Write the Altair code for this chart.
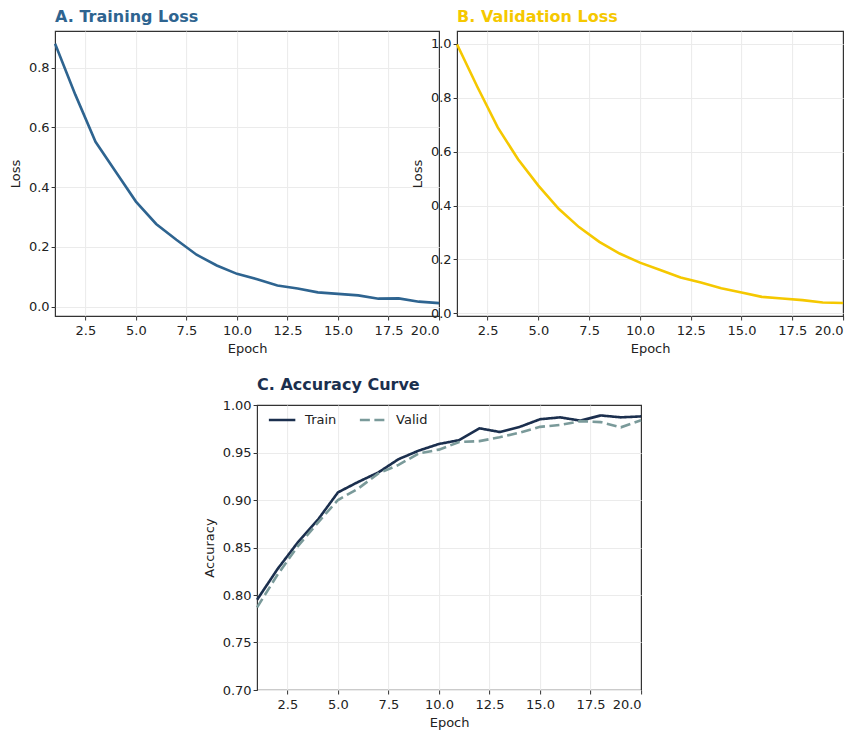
import altair as alt
import pandas as pd

epochs = list(range(1, 21))
train_loss = [0.88, 0.71, 0.552, 0.452, 0.352, 0.277, 0.224, 0.174, 0.138, 0.110,
              0.092, 0.071, 0.061, 0.048, 0.043, 0.038, 0.027, 0.028, 0.017, 0.012]
valid_loss = [0.998, 0.84, 0.69, 0.572, 0.474, 0.388, 0.32, 0.265, 0.222, 0.188,
              0.161, 0.133, 0.114, 0.093, 0.077, 0.061, 0.055, 0.049, 0.040, 0.038]
train_acc = [0.795, 0.827, 0.855, 0.879, 0.908, 0.919, 0.929, 0.943, 0.952, 0.959,
             0.963, 0.9755, 0.9716, 0.977, 0.985, 0.987, 0.9835, 0.989, 0.987, 0.988]
valid_acc = [0.787, 0.821, 0.851, 0.876, 0.900, 0.912, 0.928, 0.937, 0.949, 0.953,
             0.961, 0.962, 0.966, 0.971, 0.977, 0.979, 0.983, 0.982, 0.9765, 0.984]

x_ticks = [2.5, 5.0, 7.5, 10.0, 12.5, 15.0, 17.5, 20.0]
loss_ticks_a = [0.0, 0.2, 0.4, 0.6, 0.8]
loss_ticks_b = [0.0, 0.2, 0.4, 0.6, 0.8, 1.0]
acc_ticks = [0.70, 0.75, 0.80, 0.85, 0.90, 0.95, 1.00]

FONT = "DejaVu Sans"
W, H = 384, 285

def x_enc():
    return alt.X("epoch:Q", title="Epoch",
                 scale=alt.Scale(domain=[1, 20], nice=False, zero=False),
                 axis=alt.Axis(values=x_ticks, format=".1f", labelPadding=4, titlePadding=5,
                               gridOpacity=alt.condition("datum.value >= 20", alt.value(0), alt.value(1))))

def title(text, color):
    return alt.TitleParams(text, color=color, anchor="start", frame="group",
                           fontSize=16, fontWeight="bold", font=FONT, offset=6)

df_a = pd.DataFrame({"epoch": epochs, "loss": train_loss})
df_b = pd.DataFrame({"epoch": epochs, "loss": valid_loss})
rows = []
for e, t, v in zip(epochs, train_acc, valid_acc):
    rows.append({"epoch": e, "acc": t, "series": "Train"})
    rows.append({"epoch": e, "acc": v, "series": "Valid"})
df_c = pd.DataFrame(rows)

chart_a = alt.Chart(df_a).mark_line(color="#2E6490", strokeWidth=2.6).encode(
    x=x_enc(),
    y=alt.Y("loss:Q", title="Loss",
            scale=alt.Scale(domain=[-0.031, 0.923], nice=False, zero=False),
            axis=alt.Axis(values=loss_ticks_a, format=".1f")),
).properties(width=W, height=H, title=title("A. Training Loss", "#2E6490"))

chart_b = alt.Chart(df_b).mark_line(color="#F5C800", strokeWidth=2.6).encode(
    x=x_enc(),
    y=alt.Y("loss:Q", title="Loss",
            scale=alt.Scale(domain=[-0.010, 1.048], nice=False, zero=False),
            axis=alt.Axis(values=loss_ticks_b, format=".1f")),
).properties(width=386, height=H, title=title("B. Validation Loss", "#F5C800"))

chart_c = alt.Chart(df_c).mark_line(strokeWidth=2.6).encode(
    x=x_enc(),
    y=alt.Y("acc:Q", title="Accuracy",
            scale=alt.Scale(domain=[0.70, 1.00], nice=False, zero=False),
            axis=alt.Axis(values=acc_ticks, format=".2f",
                          gridOpacity=alt.condition("datum.value >= 0.999", alt.value(0), alt.value(1)))),
    color=alt.Color("series:N",
                    scale=alt.Scale(domain=["Train", "Valid"], range=["#1B2F4E", "#7A9A9A"]),
                    legend=alt.Legend(title=None, orient="none", legendX=10, legendY=0,
                                      direction="horizontal", symbolType="stroke",
                                      symbolSize=700, symbolStrokeWidth=2.6,
                                      labelFontSize=13, labelFont=FONT, labelColor="#222222",
                                      columnPadding=17, labelOffset=8)),
    strokeDash=alt.StrokeDash("series:N",
                              scale=alt.Scale(domain=["Train", "Valid"], range=[[1, 0], [10, 4.5]]),
                              legend=None),
).properties(width=W, height=H, title=title("C. Accuracy Curve", "#1B2F4E"))

top = alt.hconcat(chart_a, chart_b, spacing=18, bounds="flush")
chart = alt.vconcat(top, chart_c, spacing=20, center=True).resolve_legend(
    color="independent", strokeDash="independent",
).configure(
    font=FONT,
).configure_view(
    stroke="#333333", strokeWidth=1.2,
).configure_axis(
    labelFont=FONT, titleFont=FONT, labelFontSize=13, titleFontSize=13,
    labelColor="#222222", titleColor="#222222", titleFontWeight="normal",
    gridColor="#ebebeb", gridWidth=1, domain=False,
    tickColor="#333333", tickSize=4, labelPadding=2,
).configure_axisY(titlePadding=6).properties(
    padding={"left": 8, "top": 8, "right": 0, "bottom": 0},
    background="white",
)

chart.save("out.html", embed_options={"renderer": "svg", "actions": False})
